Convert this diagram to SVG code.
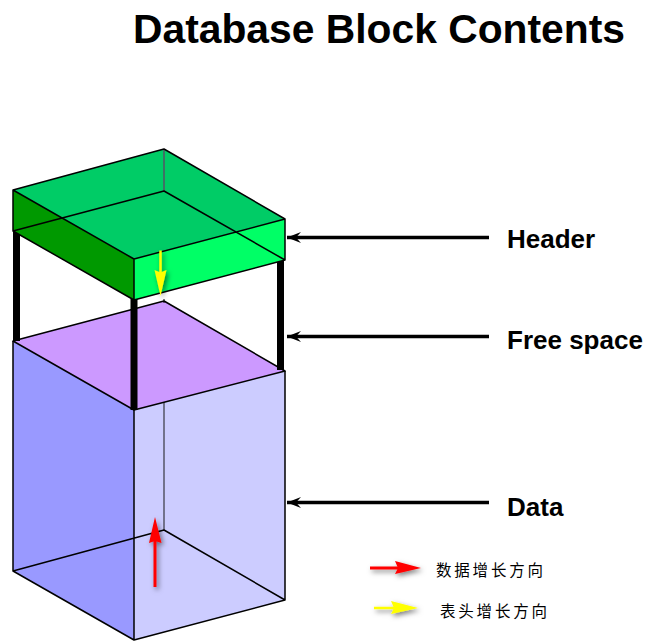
<svg xmlns="http://www.w3.org/2000/svg" width="652" height="644" viewBox="0 0 652 644">
<defs>
<style>
.e{fill:none;stroke:#000;stroke-width:1.5;stroke-linejoin:round}
.b{fill:none;stroke:#555566;stroke-width:1.500}
.leg{stroke:#000;stroke-width:7;fill:none}
.call{stroke:#000;stroke-width:3.500;fill:none;marker-end:url(#open)}
.lab{font-family:"Liberation Sans",Arial,sans-serif;font-weight:700;font-size:26px;fill:#000}
.cn{font-family:"Noto Sans CJK SC","Liberation Sans",sans-serif;font-size:15.500px;fill:#000}
</style>
<marker id="open" markerUnits="userSpaceOnUse" markerWidth="16" markerHeight="14" refX="15" refY="7" orient="auto" viewBox="0 0 16 14"><path d="M1 1.500L15 7L1 12.500L6 7Z" fill="#000"/></marker>
<filter id="sh" x="-60%" y="-60%" width="220%" height="220%"><feDropShadow dx="2" dy="2.500" stdDeviation="2.500" flood-color="#000" flood-opacity=".5"/></filter>
</defs>
<rect width="652" height="644" fill="#fff"/>
<text x="133" y="43" style="font-family:'Liberation Sans',Arial,sans-serif;font-weight:700;font-size:40.800px" fill="#000">Database Block Contents</text>
<g id="data-block">
<path d="M13 341L134 410L134 640L13 571Z" fill="#9999ff"/>
<path d="M134 410L285 371L285 600L134 640Z" fill="#ccccff"/>
<path class="b" d="M164 402V530"/>
<path class="e" d="M13 341V571L134 640L285 600V371M134 410V640M13 571L164 530L285 600"/>
</g>
<g id="free-space">
<path d="M13 341L164 301L285 371L134 410Z" fill="#cc99ff" stroke="#000" stroke-width="1.500" stroke-linejoin="round"/>
<path d="M164 299V303" stroke="#000" stroke-width="1"/>
</g>
<g id="supports">
<path class="leg" d="M16.500 232V341M134 299V410M280.500 261V370"/>
</g>
<g id="header">
<path d="M13 190L164 149L285 219L134 259Z" fill="#00cc66"/>
<path d="M13 190L134 259V300L13 231Z" fill="#009900"/>
<path d="M134 259L285 219V260L134 300Z" fill="#00ff66"/>
<path class="b" d="M164 149V191"/>
<path class="e" d="M13 190L164 149L285 219V260L134 300L13 231ZM13 190L134 259L285 219M134 259V300M13 231L164 191L285 260"/>
</g>
<g id="connectors">
<path class="call" d="M489 237.500H287"/>
<path class="call" d="M489 336.500H287"/>
<path class="call" d="M489 502.500H287"/>
</g>
<g id="growth-arrows">
<g filter="url(#sh)"><path d="M160.500 250.500V276" stroke="#ffff00" stroke-width="2.500"/><path d="M160.500 296L154.500 270L160.500 272.500L166.500 270Z" fill="#ffff00"/></g>
<g filter="url(#sh)"><path d="M155 587V538" stroke="#ff0000" stroke-width="3"/><path d="M155 517L161.500 543L155 541L149 543Z" fill="#ff0000"/></g>
<g filter="url(#sh)"><path d="M370 568H399" stroke="#ff0000" stroke-width="3"/><path d="M421 568L395 561L398 568L395 574Z" fill="#ff0000"/></g>
<g filter="url(#sh)"><path d="M374 608H396" stroke="#ffff00" stroke-width="2.500"/><path d="M418 608L391 601L394 608L391 614Z" fill="#ffff00"/></g>
</g>
<g id="labels">
<text class="lab" x="507" y="248">Header</text>
<text class="lab" x="507" y="349">Free space</text>
<text class="lab" x="507" y="516">Data</text>
<text class="cn" x="436" y="576" textLength="107">数据增长方向</text>
<text class="cn" x="440" y="617" textLength="107">表头增长方向</text>
</g>
</svg>
